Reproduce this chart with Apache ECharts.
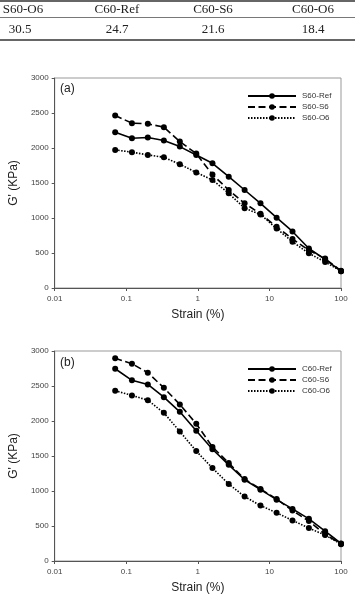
<!DOCTYPE html>
<html>
<head>
<meta charset="utf-8" />
<title>G' vs strain</title>
<script src="https://cdn.jsdelivr.net/npm/echarts@6/dist/echarts.min.js"></script>
<style>
  html, body { margin: 0; padding: 0; background: #fff; }
  #main { width: 355px; height: 595px; }
</style>
</head>
<body>
<div id="main"></div>
<script type="text/javascript">
    // table row above the charts
    var tableHead = ['S60-O6', 'C60-Ref', 'C60-S6', 'C60-O6'];
    var tableVals = ['30.5', '24.7', '21.6', '18.4'];

    // strain (%) sweep, shared by all series
    var strain = [0.07, 0.12, 0.2, 0.335, 0.56, 0.95, 1.6, 2.7, 4.5, 7.5, 12.6, 21, 35.6, 60, 100];

    // (a) S60 mixes, G' (KPa)
    var s60Ref = [2226, 2140, 2149, 2106, 2020, 1900, 1782, 1590, 1400, 1210, 1005, 808, 564, 410, 240];
    var s60S6  = [2464, 2355, 2345, 2298, 2092, 1920, 1620, 1400, 1210, 1060, 875, 700, 540, 420, 245];
    var s60O6  = [1973, 1940, 1901, 1868, 1768, 1650, 1543, 1352, 1140, 1050, 850, 660, 495, 372, 240];

    // (b) C60 mixes, G' (KPa)
    var c60Ref = [2746, 2581, 2522, 2340, 2131, 1860, 1597, 1374, 1161, 1019, 876, 744, 602, 426, 250];
    var c60S6  = [2895, 2818, 2690, 2475, 2236, 1960, 1630, 1400, 1170, 1030, 885, 720, 570, 380, 245];
    var c60O6  = [2432, 2366, 2297, 2117, 1850, 1570, 1327, 1100, 920, 793, 688, 580, 470, 370, 240];

    var xTickLabels = {'0.01': '0.01', '0.1': '0.1', '1': '1', '10': '10', '100': '100'};

    function pairs(ys) {
        var res = [];
        for (var i = 0; i < ys.length; i++) res.push([strain[i], ys[i]]);
        return res;
    }

    var FONT = 'Liberation Sans';
    var dashStyles = {
        solid: 'solid',
        dashed: [7, 3.5],
        dotted: [1.5, 1.5]
    };

    function mkSeries(name, ys, style, idx) {
        return {
            name: name,
            type: 'line',
            xAxisIndex: idx,
            yAxisIndex: idx,
            data: pairs(ys),
            symbol: 'circle',
            symbolSize: 6,
            itemStyle: { color: '#000' },
            lineStyle: { color: '#000', width: 1.6, type: dashStyles[style] },
            emphasis: { disabled: true },
            animation: false
        };
    }

    function mkX(idx) {
        return {
            type: 'log',
            logBase: 10,
            gridIndex: idx,
            min: 0.01,
            max: 100,
            name: 'Strain (%)',
            nameLocation: 'middle',
            nameGap: 21,
            nameTextStyle: { fontFamily: FONT, fontSize: 12, color: '#222' },
            axisLine: { lineStyle: { color: '#555', width: 1 } },
            axisTick: { show: true, inside: false, length: 3, lineStyle: { color: '#555' } },
            minorTick: { show: false },
            splitLine: { show: false },
            axisLabel: {
                fontFamily: FONT, fontSize: 8, color: '#444', margin: 7,
                formatter: function (v) {
                    var k = String(+(+v).toPrecision(3));
                    return xTickLabels[k] || k;
                }
            }
        };
    }

    function mkY(idx) {
        return {
            type: 'value',
            gridIndex: idx,
            min: 0,
            max: 3000,
            interval: 500,
            name: "G' (KPa)",
            nameLocation: 'middle',
            nameGap: 33,
            nameTextStyle: { fontFamily: FONT, fontSize: 12, color: '#222' },
            axisLine: { show: true, lineStyle: { color: '#555', width: 1 } },
            axisTick: { show: true, inside: false, length: 3, lineStyle: { color: '#555' } },
            splitLine: { show: false },
            axisLabel: {
                fontFamily: FONT, fontSize: 8, color: '#444', margin: 6,
                formatter: function (v) { return String(v); }
            }
        };
    }

    function mkLegend(names, top) {
        return {
            orient: 'vertical',
            left: 242,
            top: top,
            itemWidth: 48,
            itemHeight: 7,
            itemGap: 3,
            data: names,
            selectedMode: false,
            textStyle: { fontFamily: FONT, fontSize: 8, color: '#333', padding: [0, 0, 0, 1] }
        };
    }

    // table drawn as graphic text + rules
    var graphics = [
        { type: 'line', shape: { x1: 0, y1: 1, x2: 355, y2: 1 }, style: { stroke: '#333', lineWidth: 1.5 } },
        { type: 'line', shape: { x1: 0, y1: 17.5, x2: 355, y2: 17.5 }, style: { stroke: '#555', lineWidth: 0.8 } },
        { type: 'line', shape: { x1: 0, y1: 40, x2: 355, y2: 40 }, style: { stroke: '#333', lineWidth: 1.5 } }
    ];
    var colX = [23, 117, 213, 313];
    for (var i = 0; i < tableHead.length; i++) {
        graphics.push({ type: 'text', x: colX[i], y: 9.5,
            style: { text: tableHead[i], font: '13px "Liberation Serif"', fill: '#222', align: 'center', verticalAlign: 'middle' } });
        graphics.push({ type: 'text', x: i === 0 ? 20 : colX[i], y: 29.5,
            style: { text: tableVals[i], font: '13px "Liberation Serif"', fill: '#222', align: 'center', verticalAlign: 'middle' } });
    }
    graphics.push({ type: 'text', x: 60, y: 89, style: { text: '(a)', font: '12px "Liberation Sans"', fill: '#222', verticalAlign: 'middle' } });
    graphics.push({ type: 'text', x: 60, y: 362.5, style: { text: '(b)', font: '12px "Liberation Sans"', fill: '#222', verticalAlign: 'middle' } });

    var myChart = echarts.init(document.getElementById('main'), null, { renderer: 'canvas' });
    var option = {
        backgroundColor: '#fff',
        animation: false,
        graphic: graphics,
        legend: [
            mkLegend(['S60-Ref', 'S60-S6', 'S60-O6'], 87),
            mkLegend(['C60-Ref', 'C60-S6', 'C60-O6'], 360)
        ],
        grid: [
            { left: 54, top: 78, width: 287, height: 210, show: true, borderColor: '#999', borderWidth: 1, backgroundColor: 'transparent' },
            { left: 53, top: 351, width: 288, height: 211, show: true, borderColor: '#999', borderWidth: 1, backgroundColor: 'transparent' }
        ],
        xAxis: [mkX(0), mkX(1)],
        yAxis: [mkY(0), mkY(1)],
        series: [
            mkSeries('S60-Ref', s60Ref, 'solid', 0),
            mkSeries('S60-S6', s60S6, 'dashed', 0),
            mkSeries('S60-O6', s60O6, 'dotted', 0),
            mkSeries('C60-Ref', c60Ref, 'solid', 1),
            mkSeries('C60-S6', c60S6, 'dashed', 1),
            mkSeries('C60-O6', c60O6, 'dotted', 1)
        ]
    };
    myChart.setOption(option);
</script>
</body>
</html>
